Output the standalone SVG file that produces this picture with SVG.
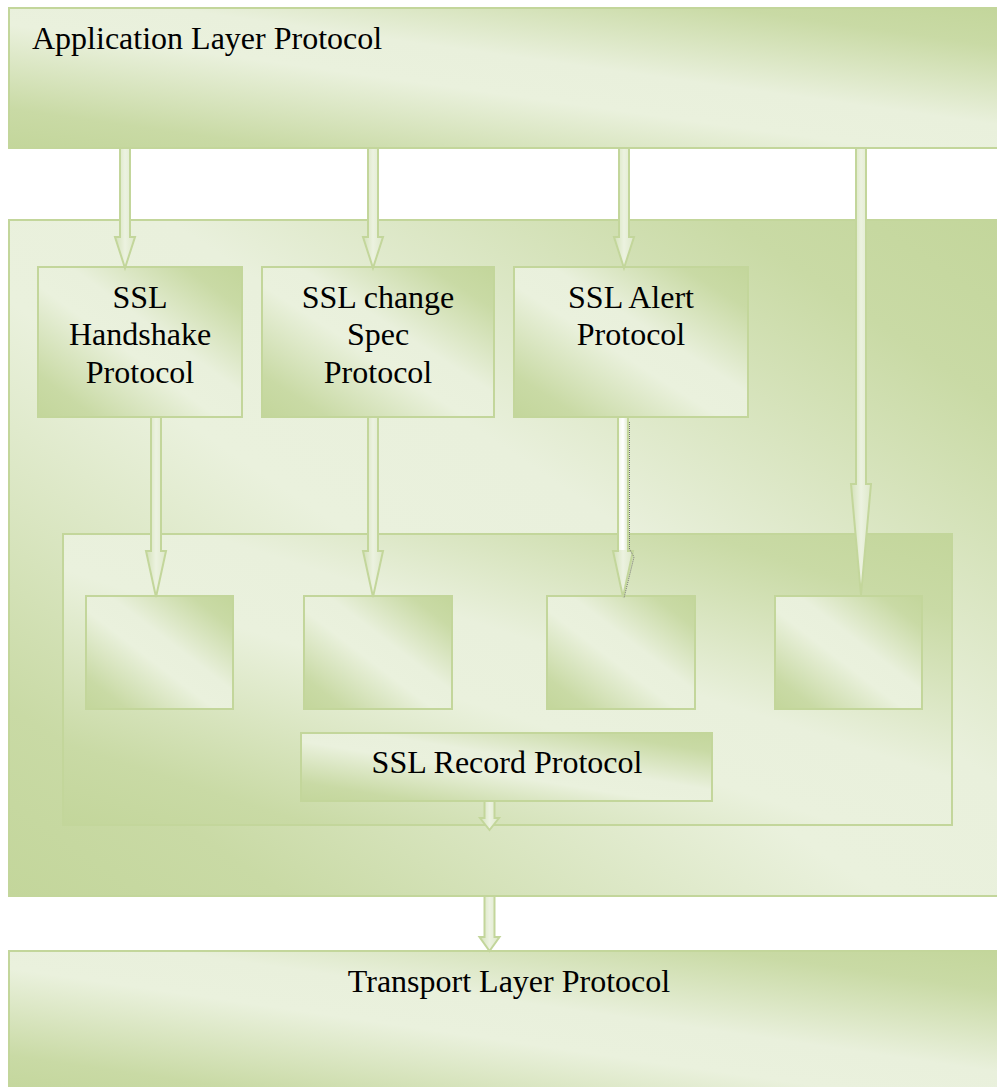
<svg xmlns="http://www.w3.org/2000/svg" width="997" height="1087" viewBox="0 0 997 1087">
<defs>
<linearGradient id="g" x1="1" y1="0" x2="0" y2="1">
<stop offset="0" stop-color="#c3d69b"/>
<stop offset="0.14" stop-color="#c9daa5"/>
<stop offset="0.42" stop-color="#e9f0dc"/>
<stop offset="0.56" stop-color="#eaf1dd"/>
<stop offset="0.86" stop-color="#c9daa5"/>
<stop offset="1" stop-color="#c3d69b"/>
</linearGradient>
<linearGradient id="ga" x1="0" y1="0" x2="1" y2="0">
<stop offset="0" stop-color="#d3e1b8"/>
<stop offset="0.5" stop-color="#ecf2e0"/>
<stop offset="1" stop-color="#dde8c9"/>
</linearGradient>
<linearGradient id="gw" x1="0" y1="0" x2="1" y2="0">
<stop offset="0" stop-color="#f4f8ec"/>
<stop offset="0.5" stop-color="#ffffff"/>
<stop offset="1" stop-color="#e6eed7"/>
</linearGradient>
</defs>
<style>
.box{fill:url(#g);stroke:#c3d69b;stroke-width:2}
.arr{fill:url(#ga);stroke:#c3d69b;stroke-width:2;stroke-linejoin:miter}
.t{font-family:"Liberation Serif","Times New Roman",serif;font-size:32px;fill:#000}
.c{text-anchor:middle}
</style>
<g id="app-layer"><rect class="box" x="9" y="8" width="996" height="140"/><text class="t" x="32" y="49">Application Layer Protocol</text></g>
<g id="ssl-layer"><rect class="box" x="9" y="220" width="996" height="676"/></g>
<g id="transport-layer"><rect class="box" x="9" y="951" width="996" height="145"/><text class="t c" x="509" y="992">Transport Layer Protocol</text></g>
<g id="handshake"><rect class="box" x="38" y="267" width="204" height="150"/><text class="t c" x="140" y="308">SSL</text><text class="t c" x="140" y="345">Handshake</text><text class="t c" x="140" y="383">Protocol</text></g>
<g id="change-spec"><rect class="box" x="262" y="267" width="232" height="150"/><text class="t c" x="378" y="308">SSL change</text><text class="t c" x="378" y="345">Spec</text><text class="t c" x="378" y="383">Protocol</text></g>
<g id="alert"><rect class="box" x="514" y="267" width="234" height="150"/><text class="t c" x="631" y="308">SSL Alert</text><text class="t c" x="631" y="345">Protocol</text></g>
<g id="record-container"><rect class="box" x="63" y="534" width="889" height="291"/></g>
<g id="slot1"><rect class="box" x="86" y="596" width="147" height="113"/></g>
<g id="slot2"><rect class="box" x="304" y="596" width="148" height="113"/></g>
<g id="slot3"><rect class="box" x="547" y="596" width="148" height="113"/></g>
<g id="slot4"><rect class="box" x="775" y="596" width="147" height="113"/></g>
<g id="record"><rect class="box" x="301" y="733" width="411" height="68"/><text class="t c" x="507" y="773">SSL Record Protocol</text></g>
<g id="connectors">
<polygon class="arr" points="120,148 130,148 130,237 135,237 125,268 115,237 120,237"/>
<polygon class="arr" points="368,148 378,148 378,237 383,237 373,268 363,237 368,237"/>
<polygon class="arr" points="619,148 629,148 629,237 634,237 624,268 614,237 619,237"/>
<polygon class="arr" points="856,148 866,148 866,484 871,484 861,595 851,484 856,484"/>
<polygon class="arr" points="151,417 161,417 161,551 166,551 156,597 146,551 151,551"/>
<polygon class="arr" points="368,417 378,417 378,551 383,551 373,597 363,551 368,551"/>
<polygon class="arr" points="618,417 628,417 628,551 633,551 623,597 613,551 618,551"/>
<rect x="619" y="418" width="8" height="132" fill="url(#gw)"/>
<polyline points="629.5,422 629.5,549 634,557 624,598" fill="none" stroke="#777" stroke-width="1" stroke-dasharray="1 1"/>
<polygon class="arr" points="484.5,801 494.5,801 494.5,818 499,818 489.5,830 480,818 484.5,818"/>
<polygon class="arr" points="484.5,896 494.5,896 494.5,937 499.5,937 489.5,951 479.5,937 484.5,937"/>
</g>
</svg>
